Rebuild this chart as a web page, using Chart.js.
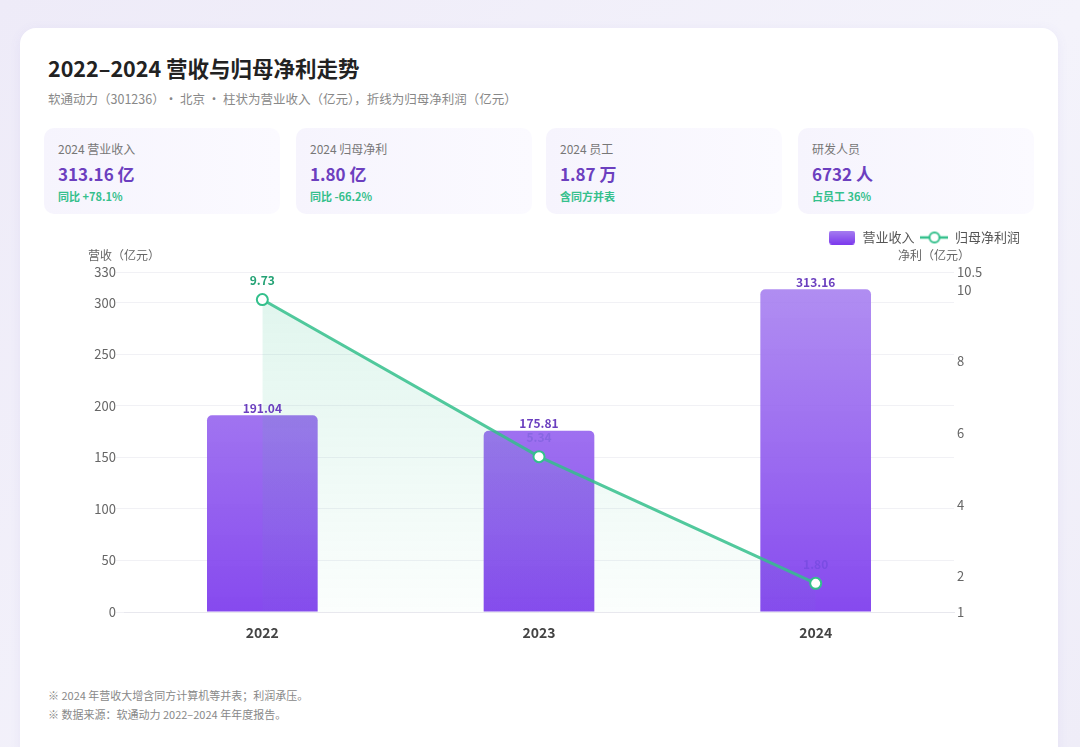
<!DOCTYPE html>
<html>
<head>
<meta charset="utf-8">
<script src="https://cdn.jsdelivr.net/npm/chart.js@4.4.1/dist/chart.umd.min.js"></script>
<style>
  body { margin:0; width:1080px; height:747px; overflow:hidden;
         background: linear-gradient(135deg,#eeebf8 0%,#f4f3fb 60%,#efedf8 100%);
         font-family: "Noto Sans CJK SC","Noto Sans",sans-serif; }
  .card { position:absolute; left:20px; top:28px; width:1038px; height:740px; background:#fff;
          border-radius:16px; box-shadow:0 2px 12px rgba(120,100,200,0.08); }
  h1 { position:absolute; left:28px; top:24px; margin:0; font-size:21.5px; font-weight:700; color:#222; }
  .sub { position:absolute; left:28px; top:61px; font-size:12.5px; color:#888; }
  .kpi { position:absolute; top:100px; width:236px; height:86px; border-radius:10px;
         background: linear-gradient(90deg,#f6f4fd 0%,#fbfaff 100%); }
  .kpi .l { position:absolute; left:14px; top:12px; font-size:12px; color:#777; }
  .kpi .v { position:absolute; left:14px; top:33px; font-size:17px; font-weight:700; color:#6c3fbf; }
  .kpi .s { position:absolute; left:14px; top:60px; font-size:11px; font-weight:700; color:#34c08c; }
  .wrap { position:absolute; left:24px; top:197px; width:990px; height:425px; }
  .note { position:absolute; left:28px; font-size:11px; color:#888; }
</style>
</head>
<body>
<div class="card">
  <h1>2022–2024 营收与归母净利走势</h1>
  <div class="sub">软通动力（301236）• 北京 • 柱状为营业收入（亿元），折线为归母净利润（亿元）</div>
  <div class="kpi" style="left:24px"><div class="l">2024 营业收入</div><div class="v">313.16 亿</div><div class="s">同比 +78.1%</div></div>
  <div class="kpi" style="left:276px"><div class="l">2024 归母净利</div><div class="v">1.80 亿</div><div class="s">同比 -66.2%</div></div>
  <div class="kpi" style="left:526px"><div class="l">2024 员工</div><div class="v">1.87 万</div><div class="s">含同方并表</div></div>
  <div class="kpi" style="left:778px"><div class="l">研发人员</div><div class="v">6732 人</div><div class="s">占员工 36%</div></div>
  <div class="wrap"><canvas id="c"></canvas></div>
  <div class="note" style="top:659px">※ 2024 年营收大增含同方计算机等并表；利润承压。</div>
  <div class="note" style="top:678px">※ 数据来源：软通动力 2022–2024 年年度报告。</div>
</div>
<script>
const years = ['2022', '2023', '2024'];
const revenue = [191.04, 175.81, 313.16];
const netProfit = [9.73, 5.34, 1.80];

const FONT = '"Noto Sans CJK SC","Noto Sans",sans-serif';

// legend swatches
const barSwatch = document.createElement('canvas');
barSwatch.width = 26; barSwatch.height = 14;
(function(){
  const g = barSwatch.getContext('2d');
  const gr = g.createLinearGradient(0,0,0,14);
  gr.addColorStop(0,'#a67ff0'); gr.addColorStop(1,'#7c3aed');
  g.fillStyle = gr;
  g.beginPath(); g.roundRect(0,0,26,14,3); g.fill();
})();
const lineSwatch = document.createElement('canvas');
lineSwatch.width = 28; lineSwatch.height = 14;
(function(){
  const g = lineSwatch.getContext('2d');
  g.strokeStyle = '#34c08c'; g.lineWidth = 2.5;
  g.beginPath(); g.moveTo(0,7); g.lineTo(28,7); g.stroke();
  g.fillStyle = '#fff'; g.lineWidth = 2;
  g.beginPath(); g.arc(14,7,5,0,Math.PI*2); g.fill(); g.stroke();
})();

// extra room under the legend
const legendGap = {
  id: 'legendGap',
  beforeInit(chart) {
    const fit = chart.legend.fit;
    chart.legend.fit = function() {
      fit.bind(chart.legend)();
      this.height += 18;
    };
  }
};

const labelsPlugin = {
  id: 'labels',
  beforeDatasetsDraw(chart) {
    const ctx = chart.ctx;
    const meta = chart.getDatasetMeta(1);
    ctx.save();
    ctx.font = 'bold 12px ' + FONT;
    ctx.fillStyle = '#24a275';
    ctx.textAlign = 'center';
    meta.data.forEach((p, i) => {
      ctx.fillText(netProfit[i].toFixed(2), p.x, p.y - 19);
    });
    ctx.restore();
  },
  afterDatasetsDraw(chart) {
    const ctx = chart.ctx;
    const meta = chart.getDatasetMeta(0);
    ctx.save();
    ctx.font = 'bold 12px ' + FONT;
    ctx.fillStyle = '#6b3fbf';
    ctx.textAlign = 'center';
    meta.data.forEach((b, i) => {
      ctx.fillText(revenue[i].toFixed(2), b.x, b.y - 7);
    });
    // axis titles
    ctx.font = '12px ' + FONT;
    ctx.fillStyle = '#666';
    ctx.textAlign = 'left';
    ctx.fillText('营收（亿元）', chart.chartArea.left - 36, chart.chartArea.top - 17);
    ctx.textAlign = 'right';
    ctx.fillText('净利（亿元）', chart.chartArea.right + 16, chart.chartArea.top - 17);
    ctx.restore();
  }
};

new Chart(document.getElementById('c'), {
  data: {
    labels: years,
    datasets: [{
      type: 'bar',
      label: '营业收入',
      data: revenue,
      yAxisID: 'y',
      order: 2,
      backgroundColor: (c) => {
        const a = c.chart.chartArea;
        if (!a) return '#8b5cf6';
        const g = c.chart.ctx.createLinearGradient(0, a.top, 0, a.bottom);
        g.addColorStop(0, 'rgba(168,130,240,0.88)');
        g.addColorStop(1, 'rgba(124,58,237,0.92)');
        return g;
      },
      borderRadius: { topLeft: 5, topRight: 5 },
      borderSkipped: 'bottom',
      barPercentage: 0.5,
      categoryPercentage: 0.8
    }, {
      type: 'line',
      label: '归母净利润',
      data: netProfit,
      yAxisID: 'y1',
      order: 1,
      borderColor: 'rgba(52,192,140,0.85)',
      borderWidth: 3,
      pointRadius: 5.5,
      pointBorderWidth: 2,
      pointBackgroundColor: '#fff',
      pointBorderColor: '#34c08c',
      tension: 0,
      fill: 'origin',
      backgroundColor: (c) => {
        const a = c.chart.chartArea;
        if (!a) return 'rgba(52,192,140,0.1)';
        const g = c.chart.ctx.createLinearGradient(0, a.top, 0, a.bottom);
        g.addColorStop(0, 'rgba(52,192,140,0.16)');
        g.addColorStop(1, 'rgba(52,192,140,0.02)');
        return g;
      }
    }]
  },
  options: {
    responsive: true,
    maintainAspectRatio: false,
    animation: false,
    layout: { padding: { right: 8 } },
    plugins: {
      tooltip: { enabled: false },
      legend: {
        display: true,
        position: 'top',
        align: 'end',
        labels: {
          usePointStyle: true,
          pointStyleWidth: 28,
          font: { family: FONT, size: 13 },
          color: '#555',
          padding: 6,
          generateLabels(chart) {
            const items = Chart.defaults.plugins.legend.labels.generateLabels(chart);
            items.sort((a, b) => a.datasetIndex - b.datasetIndex);
            items.forEach(it => { it.pointStyle = it.datasetIndex === 0 ? barSwatch : lineSwatch; });
            return items;
          }
        }
      }
    },
    scales: {
      x: {
        grid: { display: false },
        border: { display: true, color: '#e8e8ee' },
        ticks: { color: '#444', font: { family: FONT, size: 14, weight: 'bold' }, padding: 4 },
        afterFit(s) { s.height = 38; }
      },
      y: {
        position: 'left',
        min: 0, max: 330,
        ticks: { stepSize: 50, color: '#666', font: { family: FONT, size: 13 }, padding: 0 },
        grid: { color: '#f1f1f5' },
        border: { display: false },
        afterFit(s) { s.width = 80; }
      },
      y1: {
        position: 'right',
        min: 1, max: 10.5,
        ticks: { stepSize: 2, color: '#666', font: { family: FONT, size: 13 }, padding: 3 },
        grid: { display: false, drawTicks: false },
        border: { display: false },
        afterFit(s) { s.width = 72; }
      }
    }
  },
  plugins: [legendGap, labelsPlugin]
});
</script>
</body>
</html>
